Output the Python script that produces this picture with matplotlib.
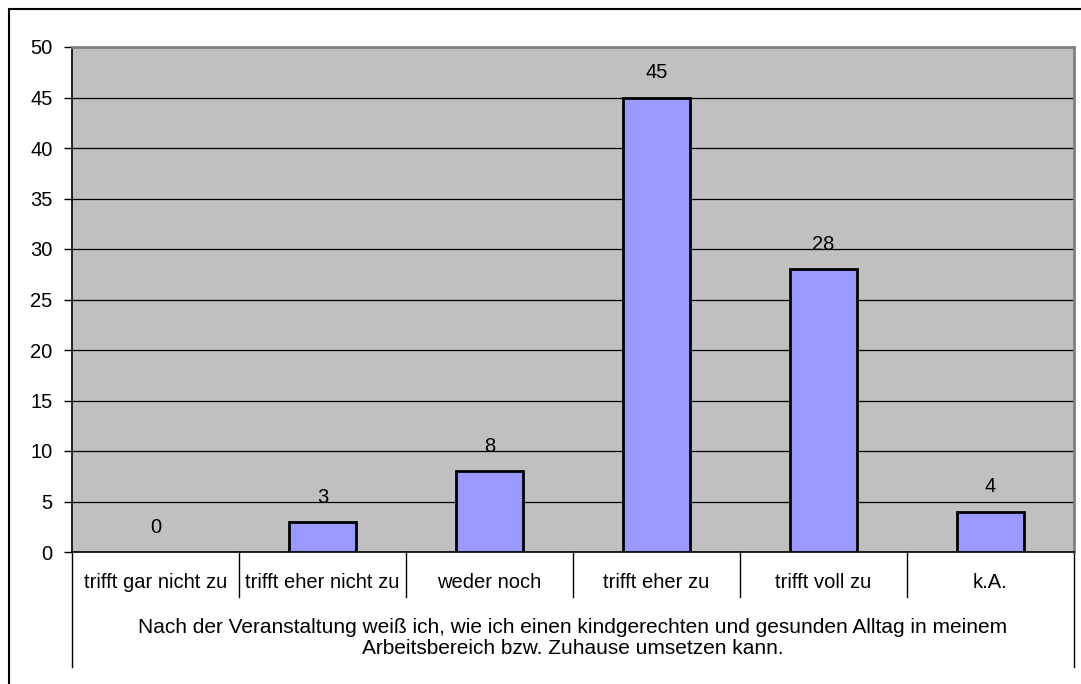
import matplotlib
matplotlib.use("Agg")
import matplotlib.pyplot as plt
from matplotlib.lines import Line2D
from matplotlib.transforms import blended_transform_factory

categories = ["trifft gar nicht zu", "trifft eher nicht zu", "weder noch",
              "trifft eher zu", "trifft voll zu", "k.A."]
values = [0, 3, 8, 45, 28, 4]
yticks = [0, 5, 10, 15, 20, 25, 30, 35, 40, 45, 50]
question = ("Nach der Veranstaltung weiß ich, wie ich einen kindgerechten und gesunden Alltag in meinem\n"
            "Arbeitsbereich bzw. Zuhause umsetzen kann.")

plt.rcParams['font.family'] = ['Liberation Sans', 'DejaVu Sans']
FS = 14.5
W, H = 1081, 684
fig = plt.figure(figsize=(W / 100, H / 100), dpi=100)
fig.patch.set_facecolor('white')

# outer frame: only top and left edges fall inside the image
fy = 1 - 8.5 / H
fx = 8.5 / W
fig.add_artist(Line2D([fx, 1.0], [fy, fy], transform=fig.transFigure, color='black', linewidth=1.5))
fig.add_artist(Line2D([fx, fx], [0, fy], transform=fig.transFigure, color='black', linewidth=1.5))

L, R, T, B = 72, 1074, 47, 552
ax = fig.add_axes([L / W, 1 - B / H, (R - L) / W, (B - T) / H])
ax.set_facecolor('#C0C0C0')

n = len(categories)
x = list(range(n))
ax.set_xlim(-0.5, n - 0.5)
ax.set_ylim(0, 50)
ax.set_yticks(yticks)
ax.yaxis.grid(True, color='black', linewidth=0.9)
ax.set_axisbelow(True)
ax.tick_params(axis='y', length=6, width=1, labelsize=FS, pad=8, color='black')
ax.set_xticks([])

for xi, v in zip(x, values):
    if v > 0:
        ax.bar(xi, v, width=0.4, color='#9999FF', edgecolor='black', linewidth=2, zorder=3)
    ax.text(xi, v + 1.5, str(v), ha='center', va='bottom', fontsize=FS)

for s in ['right', 'top']:
    ax.spines[s].set_color('#808080')
    ax.spines[s].set_linewidth(2)
ax.spines['left'].set_color('black')
ax.spines['bottom'].set_color('black')
ax.spines['left'].set_linewidth(1.2)
ax.spines['bottom'].set_linewidth(1.2)

trans = blended_transform_factory(ax.transData, ax.transAxes)
unit = 1.0 / (B - T)
row1 = -45 * unit
row2 = -115 * unit
for i in range(n - 1):
    ax.plot([i + 0.5, i + 0.5], [0, row1], transform=trans, color='black',
            linewidth=1, clip_on=False)
ax.plot([-0.5, -0.5], [0, row2], transform=trans, color='black', linewidth=1, clip_on=False)
ax.plot([n - 0.5, n - 0.5], [0, row2], transform=trans, color='black', linewidth=1, clip_on=False)

for xi, c in zip(x, categories):
    ax.text(xi, -31 * unit, c, transform=trans, ha='center', va='center', fontsize=FS)

ax.text(0.5, -86 * unit, question, transform=ax.transAxes, ha='center', va='center',
        fontsize=15, linespacing=1.1)

fig.savefig('out.png', dpi=100)
